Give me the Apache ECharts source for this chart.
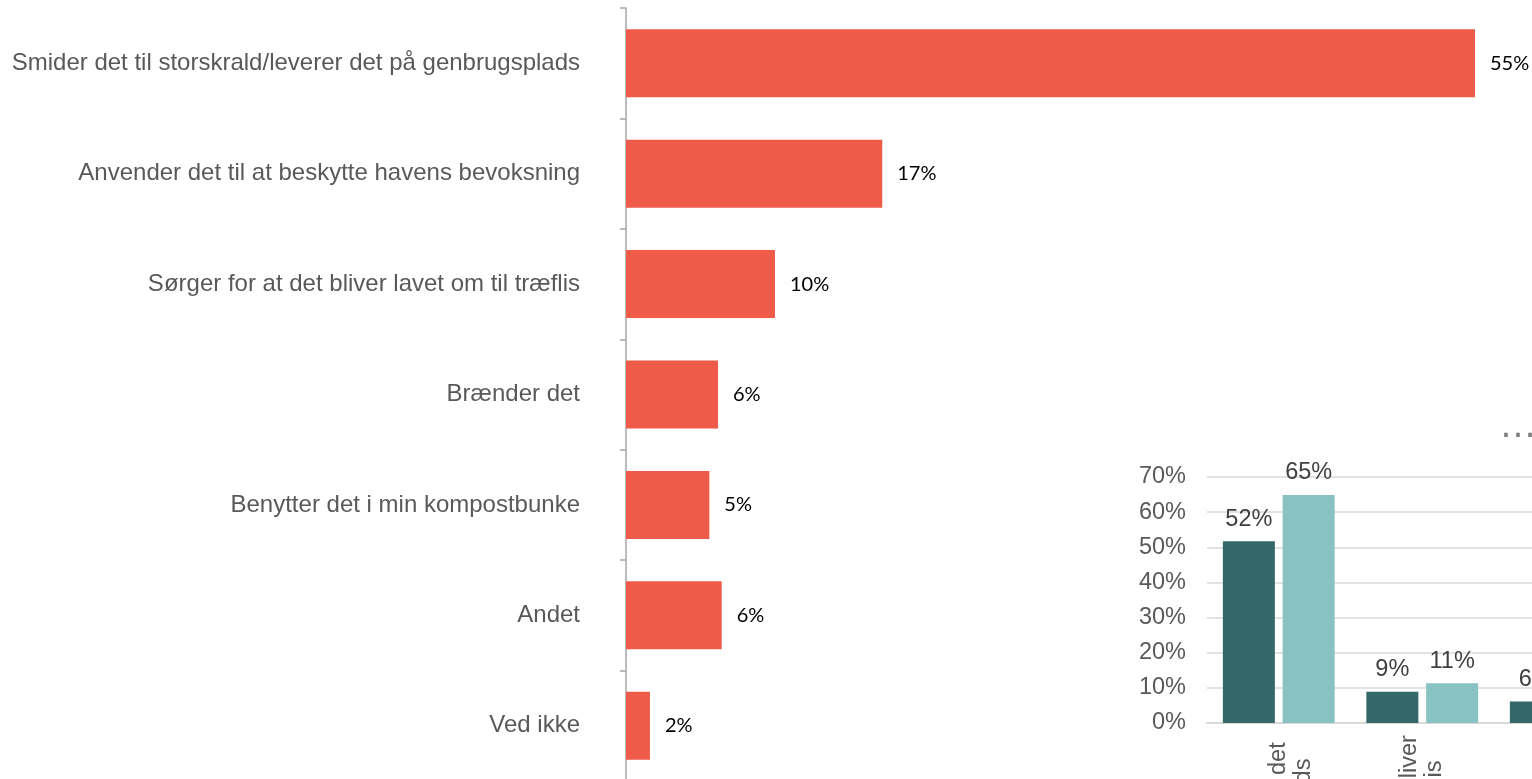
<!DOCTYPE html>
<html>
<head>
<meta charset="utf-8">
<script src="https://cdn.jsdelivr.net/npm/echarts@6/dist/echarts.min.js"></script>
<style>
html,body{margin:0;padding:0;background:#fff;}
#c{width:1532px;height:779px;}
</style>
</head>
<body>
<div id="c"></div>
<script>
const categories = [
  'Smider det til storskrald/leverer det på genbrugsplads',
  'Anvender det til at beskytte havens bevoksning',
  'Sørger for at det bliver lavet om til træflis',
  'Brænder det',
  'Benytter det i min kompostbunke',
  'Andet',
  'Ved ikke'
];
const values = [55, 16.6, 9.65, 5.96, 5.4, 6.2, 1.55];

const insetCategories = [
  'Smider det til\nstorskrald/leverer det\npå genbrugsplads',
  'Sørger for at det bliver\nlavet om til træflis',
  'Brænder det'
];
const insetSeriesA = [51.7, 8.9, 6.1];
const insetSeriesB = [64.9, 11.3, null];
const insetTicks = [0, 10, 20, 30, 40, 50, 60, 70];

const chart = echarts.init(document.getElementById('c'));
const option = {
  animation: false,
  backgroundColor: '#ffffff',
  graphic: [{
    type: 'text',
    left: 1499,
    top: 408,
    style: { text: '…', fontSize: 38, fontFamily: 'Liberation Sans, Arial', fill: '#7f7f7f' }
  }],
  grid: [
    { left: 626, top: 8, width: 849, height: 773, containLabel: false, outerBoundsMode: 'none' },
    { left: 1207, top: 477, width: 430.5, height: 246, containLabel: false, outerBoundsMode: 'none' }
  ],
  xAxis: [
    { gridIndex: 0, type: 'value', min: 0, max: 55, show: false },
    {
      gridIndex: 1, type: 'category', data: insetCategories,
      axisLine: { show: true, lineStyle: { color: '#D9D9D9', width: 2 } },
      axisTick: { show: false },
      axisLabel: {
        interval: 0, rotate: 90, align: 'center', verticalAlign: 'middle',
        margin: 129, color: '#595959', fontSize: 23.5, lineHeight: 25,
        fontFamily: 'Liberation Sans, Arial', hideOverlap: false
      }
    }
  ],
  yAxis: [
    {
      gridIndex: 0, type: 'category', data: categories, inverse: true,
      axisLine: { show: true, lineStyle: { color: '#A6A6A6', width: 1.5 } },
      axisTick: { show: true, length: 6, lineStyle: { color: '#A6A6A6', width: 1.5 } },
      axisLabel: { margin: 46, color: '#595959', fontSize: 24, fontFamily: 'Liberation Sans, Arial' }
    },
    {
      gridIndex: 1, type: 'value', min: insetTicks[0], max: insetTicks[insetTicks.length - 1], interval: 10,
      axisLine: { show: false }, axisTick: { show: false },
      splitLine: { lineStyle: { color: '#D9D9D9', width: 1.5 } },
      axisLabel: { margin: 21, color: '#595959', fontSize: 23.5, fontFamily: 'Liberation Sans, Arial', formatter: '{value}%' }
    }
  ],
  series: [
    {
      type: 'bar', xAxisIndex: 0, yAxisIndex: 0, data: values, barWidth: 68,
      itemStyle: { color: '#EE5B48' },
      label: {
        show: true, position: 'right', distance: 15, color: '#000000', fontSize: 20,
        fontFamily: 'Liberation Sans Narrow, Lato, sans-serif',
        formatter: p => Math.round(p.value) + '%'
      }
    },
    {
      type: 'bar', xAxisIndex: 1, yAxisIndex: 1, data: insetSeriesA, barWidth: 52, barGap: '15%',
      itemStyle: { color: '#346868' },
      label: {
        show: true, position: 'top', distance: 10, color: '#404040', fontSize: 23.5,
        fontFamily: 'Liberation Sans, Arial', formatter: p => Math.round(p.value) + '%'
      }
    },
    {
      type: 'bar', xAxisIndex: 1, yAxisIndex: 1, data: insetSeriesB, barWidth: 52, barGap: '15%',
      itemStyle: { color: '#88C2C2' },
      label: {
        show: true, position: 'top', distance: 10, color: '#404040', fontSize: 23.5,
        fontFamily: 'Liberation Sans, Arial', formatter: p => Math.round(p.value) + '%'
      }
    }
  ]
};
chart.setOption(option);
</script>
</body>
</html>
